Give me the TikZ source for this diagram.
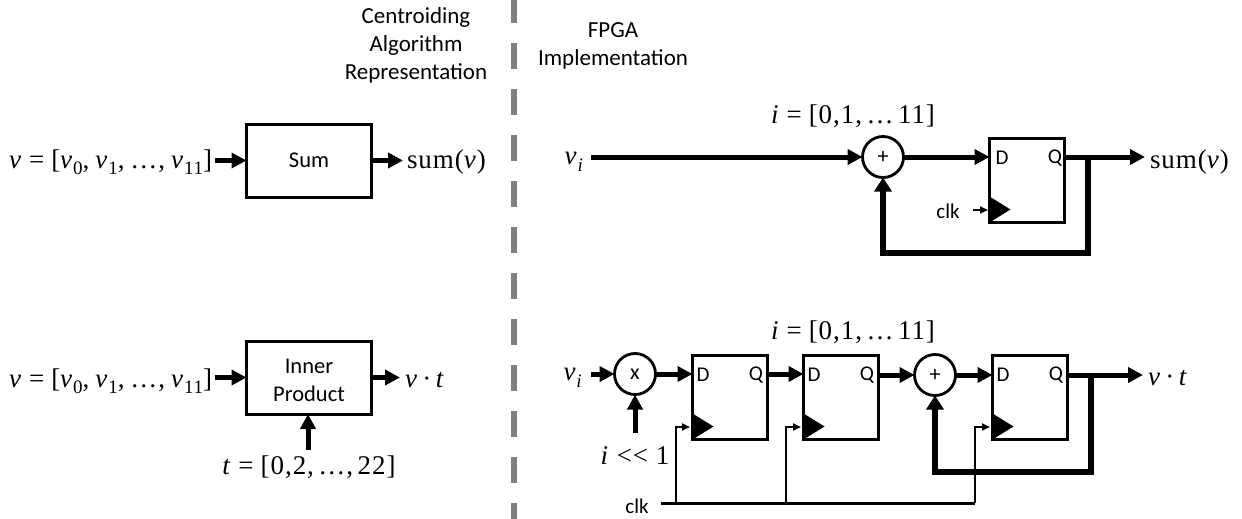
\documentclass[tikz,border=0pt]{standalone}
\usepackage{fontspec}
\setmainfont{Carlito}
\newfontfamily\eqfont[LetterSpace=3.5]{Liberation Serif}
\usetikzlibrary{arrows.meta,calc}
\newcommand\vv[1]{\textit{#1}}
\newcommand\ssb[1]{\raisebox{-0.24em}{\fontsize{19}{19}\selectfont #1}}
\newcommand\eqsp{\hspace{0.26em}=\hspace{0.26em}}
\tikzset{
  base/.style={inner sep=0pt,outer sep=0pt},
  txt/.style={base,font=\fontsize{23}{28}\selectfont,align=center},
  small/.style={base,font=\fontsize{21}{24}\selectfont},
  eq/.style={base,font=\eqfont\fontsize{27}{30}\selectfont},
  block/.style={base,draw=black,line width=3pt,minimum width=125pt,font=\fontsize{22.5}{28}\selectfont,align=center},
  blocktext/.style={base,font=\fontsize{22.5}{28}\selectfont,align=center},
  ffbox/.style={base,draw=black,line width=3pt,minimum width=75pt,minimum height=84pt,anchor=north west},
  opnode/.style={base,circle,draw=black,fill=white,line width=2.8pt,minimum size=41pt,font=\fontsize{22}{22}\selectfont},
  wire/.style={line width=5pt,-{Triangle[width=15pt,length=15pt]}},
  backwire/.style={line width=6pt,-{Triangle[width=17pt,length=14pt]}},
  clkwire/.style={line width=2.6pt,-{Triangle[width=7pt,length=8pt]}},
  clkbus/.style={line width=3pt},
  divider/.style={line width=6.5pt,draw={rgb,255:red,127;green,127;blue,127},dash pattern=on 26pt off 20pt},
  clktri/.style={fill=black},
}
\newcommand\vecv{\vv{v}\eqsp[\vv{v}\ssb{0},\hspace{0.22em}\vv{v}\ssb{1},\hspace{0.22em}…,\hspace{0.22em}\vv{v}\ssb{11}]}
\newcommand\idx{\vv{i}\eqsp[0,1,\,…\,11]}
\begin{document}
\begin{tikzpicture}[x=1pt,y=-1pt]
\useasboundingbox (0,0) rectangle (1242,519);
% divider
\coordinate (divtop) at (514,-3);
\coordinate (divbot) at (514,519);
\draw[divider] (divtop) -- (divbot);
% headers
\node[txt] (hleft) at (416,45) {Centroiding\\Algorithm\\Representation};
\node[txt] (hright) at (613,45.5) {FPGA\\Implementation};
% ===== left top
\node[block,minimum height=73pt] (sumbox) at (309,160.5) {Sum};
\node[eq,anchor=east] (vecA) at (212,162) {\vecv};
\node[eq,anchor=west] (sumA) at (407,162) {sum(\vv{v})};
\coordinate (vecAs) at (215,160.5);
\coordinate (sumAe) at (403,160.5);
\draw[wire] (vecAs) -- (sumbox.west);
\draw[wire] (sumbox.east) -- (sumAe);
% ===== left bottom
\node[block,minimum height=73pt] (ipbox) at (309,377.5) {};
\node[blocktext] (iptext) at (309,380) {Inner\\Product};
\node[eq,anchor=east] (vecB) at (212,381) {\vecv};
\node[eq,anchor=west] (dotB) at (405,380) {\vv{v}\,·\,\vv{t}};
\node[eq] (tvec) at (309,467) {\vv{t}\eqsp[0,2,\,…,\,22]};
\coordinate (vecBs) at (215,377.5);
\coordinate (dotBe) at (400,377.5);
\draw[wire] (vecBs) -- (ipbox.west);
\draw[wire] (ipbox.east) -- (dotBe);
\coordinate (tstart) at (308,450);
\draw[wire] (tstart) -- (tstart |- ipbox.south);
% ===== right top
\node[eq] (idxA) at (853,116) {\idx};
\node[eq] (viA) at (574,162) {\vv{v}\ssb{\textit{i}}};
\node[opnode] (plusA) at (883,157) {+};
\node[ffbox] (ffA) at (989.5,138.5) {};
\node[small] (ffAd) at (1002,158) {D};
\node[small] (ffAq) at (1055,158) {Q};
\coordinate (startA) at (591,157);
\draw[wire] (startA) -- (plusA.west);
\draw[wire] (plusA.east) -- (ffA.west |- plusA.east);
\node[eq,anchor=west] (sumC) at (1150,162) {sum(\vv{v})};
\coordinate (outA) at (1145,157);
\draw[wire] (ffA.east |- plusA.east) -- (outA);
\coordinate (fbA) at (1088,157);
\draw[backwire] (fbA) -- (1088,253) -| (plusA.south);
\fill[clktri] (ffA.south west) -- ++(0,-26) -- ++(21,13) -- cycle;
\node[small] (clkA) at (948,211) {clk};
\coordinate (clkAs) at (973,210);
\draw[clkwire] (clkAs) -- (988,210);
% ===== right bottom
\node[eq] (idxB) at (853,332) {\idx};
\node[eq] (viB) at (573,378) {\vv{v}\ssb{\textit{i}}};
\node[opnode] (times) at (635,374) {x};
\node[ffbox] (ff1) at (692.5,355.5) {};
\node[ffbox] (ff2) at (803.5,355.5) {};
\node[ffbox] (ff3) at (992.5,355.5) {};
\node[opnode] (plusB) at (935,375) {+};
\foreach \f/\dx/\qx in {ff1/703/756,ff2/814/867,ff3/1003/1056}{
  \node[small] (\f d) at (\dx,375) {D};
  \node[small] (\f q) at (\qx,375) {Q};
  \fill[clktri] (\f.south west) -- ++(0,-26) -- ++(21,13) -- cycle;
}
\coordinate (viBs) at (591,374);
\draw[wire] (viBs) -- (times.west);
\draw[wire] (times.east) -- (ff1.west |- times.east);
\draw[wire] (ff1.east |- times.east) -- (ff2.west |- times.east);
\draw[wire] (ff2.east |- plusB.west) -- (plusB.west);
\draw[wire] (plusB.east) -- (ff3.west |- plusB.east);
\node[eq,anchor=west] (dotC) at (1148,378) {\vv{v}\,·\,\vv{t}};
\coordinate (outB) at (1143,375);
\draw[wire] (ff3.east |- outB) -- (outB);
\coordinate (fbB) at (1091,375);
\draw[backwire] (fbB) -- (1091,472) -| (plusB.south);
\node[eq] (shiftT) at (635,456) {\vv{i} <{}< 1};
\coordinate (shiftS) at (635,433);
\draw[wire] (shiftS) -- (times.south);
% clock
\node[small] (clkB) at (637,506) {clk};
\coordinate (clkS) at (661,503);
\coordinate (clkE) at (975,503);
\draw[clkbus] (clkS) -- (clkE);
\coordinate (b1) at (676,503);
\coordinate (b2) at (786,503);
\draw[clkwire] (b1) |- (690,427);
\draw[clkwire] (b2) |- (801,427);
\draw[clkwire] (clkE) |- (990,427);
\end{tikzpicture}
\end{document}
